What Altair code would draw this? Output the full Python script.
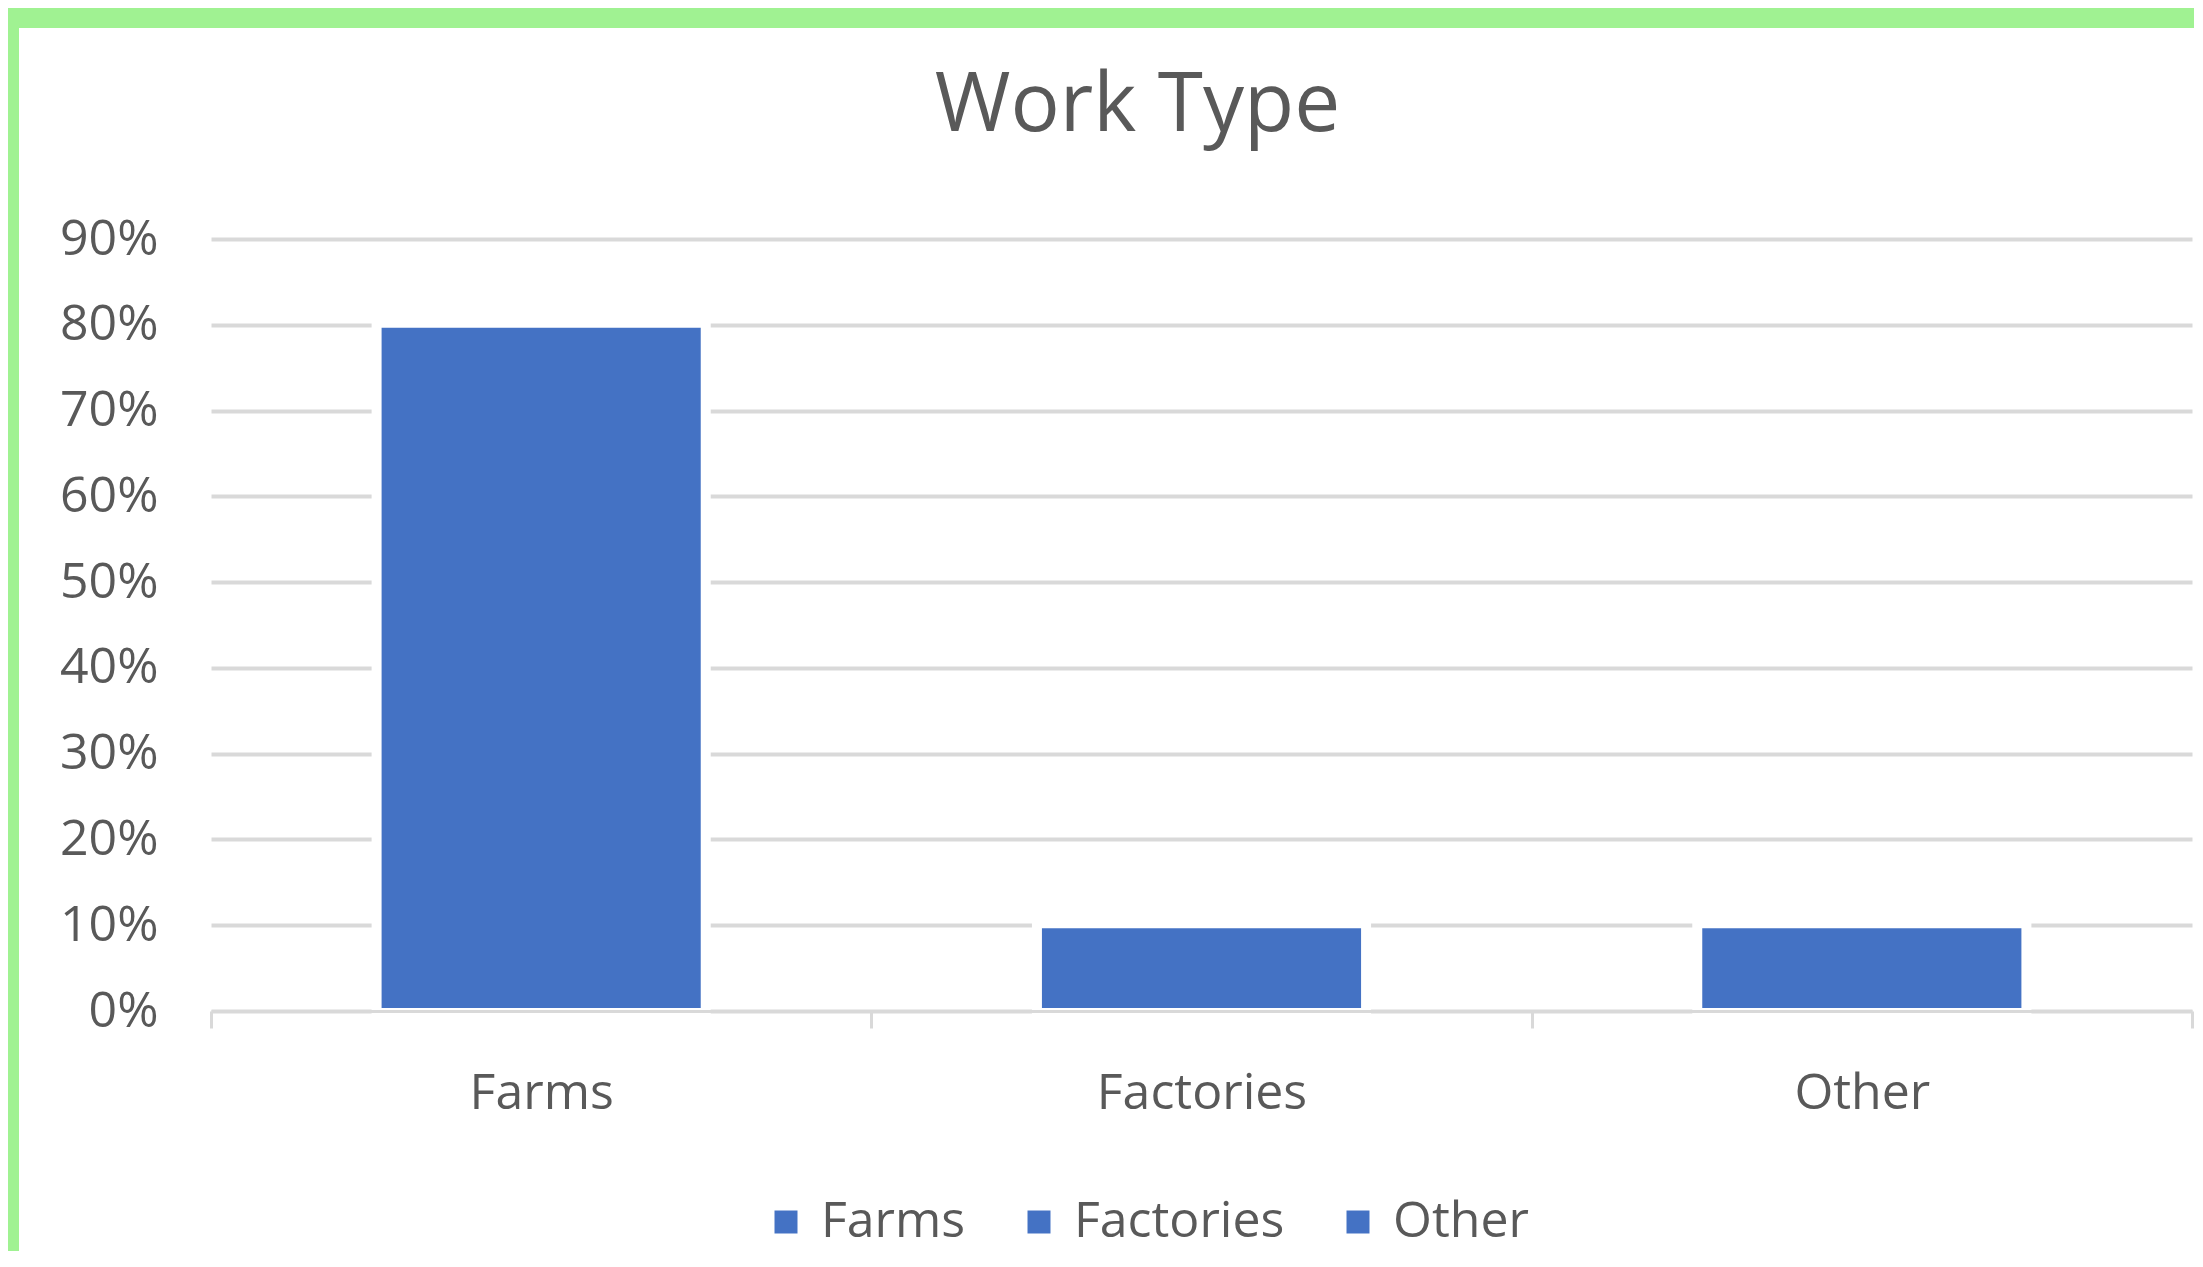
import altair as alt
import pandas as pd

categories = ["Farms", "Factories", "Other"]
shares = [0.80, 0.10, 0.10]
y_ticks = [0.0, 0.1, 0.2, 0.3, 0.4, 0.5, 0.6, 0.7, 0.8, 0.9]

BLUE = "#4472C4"
GRID = "#d9d9d9"
TEXT = "#595959"
GREEN = "#A0F292"
FONT = "Open Sans"

W, H = 1981, 772

df = pd.DataFrame({"category": categories, "share": shares})
one = pd.DataFrame({"k": [0]})

x_enc = alt.X(
    "category:N",
    sort=categories,
    scale=alt.Scale(paddingInner=0, paddingOuter=0),
    axis=alt.Axis(
        title=None, labelAngle=0, labelFontSize=50, labelColor=TEXT, labelFont=FONT,
        labelPadding=40, labelLimit=0, tickBand="extent", ticks=True, tickSize=17,
        tickColor=GRID, tickWidth=3, domainColor=GRID, domainWidth=3, grid=False, zindex=1,
    ),
)
y_enc = alt.Y(
    "share:Q",
    scale=alt.Scale(domain=[0, 0.9], nice=False),
    axis=alt.Axis(
        title=None, values=y_ticks, format=".0%", labelFontSize=50, labelColor=TEXT,
        labelFont=FONT, labelPadding=53, domain=False, ticks=False, grid=True,
        gridColor=GRID, gridWidth=4,
    ),
)

halo = alt.Chart(df).mark_bar(
    color="white", stroke="white", strokeWidth=14, width=alt.RelativeBandSize(0.4924)
).encode(x=x_enc, y=y_enc)

bars = alt.Chart(df).mark_bar(
    stroke="white", strokeWidth=6, width=alt.RelativeBandSize(0.4924)
).encode(
    x=x_enc,
    y=y_enc,
    color=alt.Color(
        "category:N",
        sort=categories,
        scale=alt.Scale(domain=categories, range=[BLUE, BLUE, BLUE]),
        legend=alt.Legend(
            title=None, orient="none", legendX=550, legendY=958, direction="horizontal",
            symbolType="square", symbolSize=529, symbolStrokeWidth=0, labelFontSize=50,
            labelColor=TEXT, labelFont=FONT, labelOffset=10, labelLimit=0,
            columnPadding=48, padding=0,
        ),
    ),
)

top_strip = alt.Chart(one).mark_rect(color=GREEN, clip=False).encode(
    x=alt.value(-203), x2=alt.value(1983), y=alt.value(-231), y2=alt.value(-211)
)
left_strip = alt.Chart(one).mark_rect(color=GREEN, clip=False).encode(
    x=alt.value(-203), x2=alt.value(-192), y=alt.value(-231), y2=alt.value(1012)
)

chart = (
    alt.layer(top_strip, left_strip, halo, bars)
    .properties(
        width=W,
        height=H,
        padding=0,
        title=alt.Title(
            "Work Type", fontSize=82, font=FONT, fontWeight="normal", color=TEXT,
            anchor="middle", frame="group", dx=-64, offset=-205, baseline="alphabetic",
        ),
    )
    .configure(font=FONT, background="white")
    .configure_view(strokeWidth=0, stroke="transparent")
)

chart.save("out.html", embed_options={"renderer": "svg", "actions": False})
